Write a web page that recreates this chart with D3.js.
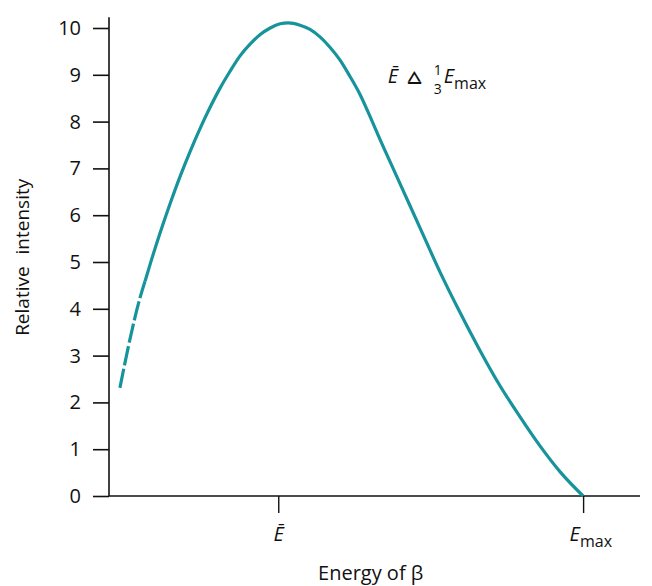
<!DOCTYPE html>
<html>
<head>
<meta charset="utf-8">
<script src="https://cdn.jsdelivr.net/npm/d3@7"></script>
<style>
  body { margin: 0; background: #fff; }
  text { font-family: "Open Sans", "Noto Sans", sans-serif; fill: #111; }
</style>
</head>
<body>
<div id="chart"></div>
<script>
// data (energy as fraction of Emax)
var energy = [0.023, 0.044, 0.065, 0.076, 0.087, 0.108, 0.129, 0.150, 0.171, 0.192,
              0.213, 0.234, 0.255, 0.276, 0.298, 0.319, 0.340, 0.361, 0.378, 0.403,
              0.424, 0.445, 0.466, 0.487, 0.508, 0.530, 0.551, 0.572, 0.593, 0.614,
              0.656, 0.698, 0.741, 0.783, 0.825, 0.867, 0.909, 0.952, 1.0];
var intensity = [2.31, 3.34, 4.22, 4.59, 4.96, 5.63, 6.25, 6.83, 7.36, 7.85,
                 8.30, 8.71, 9.07, 9.40, 9.66, 9.86, 10.00, 10.09, 10.11, 10.06,
                 9.97, 9.81, 9.59, 9.32, 8.97, 8.57, 8.10, 7.61, 7.14, 6.67,
                 5.73, 4.79, 3.91, 3.10, 2.35, 1.69, 1.07, 0.51, 0];
var dashedUntil = 3;   // index where the dashed start ends
var yTicks = [0, 1, 2, 3, 4, 5, 6, 7, 8, 9, 10];
var xTickValues = [0.357, 1.0];
var xTickNames = ["mean", "max"];

var svgWidth = 652, svgHeight = 586;
var margin = { top: 28, right: 12, bottom: 90, left: 109 };
var width = svgWidth - margin.left - margin.right;
var height = svgHeight - margin.top - margin.bottom;
var teal = "#17939b";

var svg = d3.select("#chart")
  .append("svg")
  .attr("width", svgWidth)
  .attr("height", svgHeight);

var chart = svg.append("g")
  .attr("transform", "translate(" + margin.left + "," + margin.top + ")");

var xScale = d3.scaleLinear().domain([0, 1.12]).range([0, width]);
var yScale = d3.scaleLinear().domain([0, 10]).range([height, 0]);

// axis lines
chart.append("line")
  .attr("x1", 0).attr("x2", 0)
  .attr("y1", yScale(0)).attr("y2", yScale(10.23))
  .attr("stroke", "#111").attr("stroke-width", 1.6);
chart.append("line")
  .attr("x1", 0).attr("x2", xScale(1.12))
  .attr("y1", yScale(0)).attr("y2", yScale(0))
  .attr("stroke", "#111").attr("stroke-width", 1.6);

// y axis
var leftAxis = d3.axisLeft(yScale)
  .tickValues(yTicks)
  .tickSize(16)
  .tickPadding(12)
  .tickSizeOuter(0);
var yAxisG = chart.append("g").call(leftAxis);
yAxisG.select(".domain").remove();
yAxisG.selectAll(".tick line").attr("stroke", "#111").attr("stroke-width", 1.6);
yAxisG.selectAll(".tick text")
  .style("font-size", "20px")
  .style("font-family", "'Open Sans', sans-serif")
  .attr("fill", "#000");

// x axis
var bottomAxis = d3.axisBottom(xScale)
  .tickValues(xTickValues)
  .tickSize(17)
  .tickFormat("")
  .tickSizeOuter(0);
var xAxisG = chart.append("g")
  .attr("transform", "translate(0," + height + ")")
  .call(bottomAxis);
xAxisG.select(".domain").remove();
xAxisG.selectAll(".tick line").attr("stroke", "#111").attr("stroke-width", 1.4);

xAxisG.selectAll(".tick").each(function(d, i) {
  var t = d3.select(this).append("text")
    .attr("y", 45)
    .style("font-size", "20px")
    .attr("fill", "#000");
  if (xTickNames[i] === "mean") {
    t.attr("text-anchor", "middle").style("font-style", "italic").text("\u0112");
  } else {
    t.attr("x", -14).attr("text-anchor", "start");
    t.append("tspan").style("font-style", "italic").text("E");
    t.append("tspan").attr("dy", 6).style("font-size", "16px").text("max");
  }
});

// axis titles
chart.append("text")
  .attr("transform", "rotate(-90)")
  .attr("x", -yScale(5.1))
  .attr("y", -margin.left + 29)
  .attr("text-anchor", "middle")
  .style("font-size", "19px")
  .style("word-spacing", "7px")
  .text("Relative intensity");

chart.append("text")
  .attr("x", xScale(0.552))
  .attr("y", height + 84)
  .attr("text-anchor", "middle")
  .style("font-size", "20px")
  .text("Energy of \u03b2");

// curve
var line = d3.line()
  .x(function(d) { return xScale(d[0]); })
  .y(function(d) { return yScale(d[1]); })
  .curve(d3.curveMonotoneX);

var pts = energy.map(function(e, i) { return [e, intensity[i]]; });

chart.append("path")
  .datum(pts.slice(0, dashedUntil + 1))
  .attr("d", line)
  .attr("fill", "none")
  .attr("stroke", teal)
  .attr("stroke-width", 3.2)
  .attr("stroke-dasharray", "19.5,3.5");

chart.append("path")
  .datum(pts.slice(dashedUntil))
  .attr("d", line)
  .attr("fill", "none")
  .attr("stroke", teal)
  .attr("stroke-width", 3.2);

// annotation: E-bar ~ 1/3 Emax, one text with tspans
var ann = chart.append("text")
  .attr("transform", "translate(" + xScale(0.588) + "," + yScale(8.82) + ")")
  .style("font-size", "20px");
ann.append("tspan").attr("x", 0).attr("y", 0)
  .style("font-style", "italic").text("\u0112");
ann.append("tspan").attr("x", 19).attr("y", 1)
  .style("font-family", "'DejaVu Sans', sans-serif")
  .style("font-size", "24px").text("\u2A5F");
ann.append("tspan").attr("x", 46).attr("y", -8)
  .style("font-size", "14px").text("1");
ann.append("tspan").attr("x", 46).attr("y", 11)
  .style("font-size", "14px").text("3");
ann.append("tspan").attr("x", 56).attr("y", 0)
  .style("font-style", "italic").text("E");
ann.append("tspan").attr("y", 6)
  .style("font-size", "16px").text("max");
</script>
</body>
</html>
